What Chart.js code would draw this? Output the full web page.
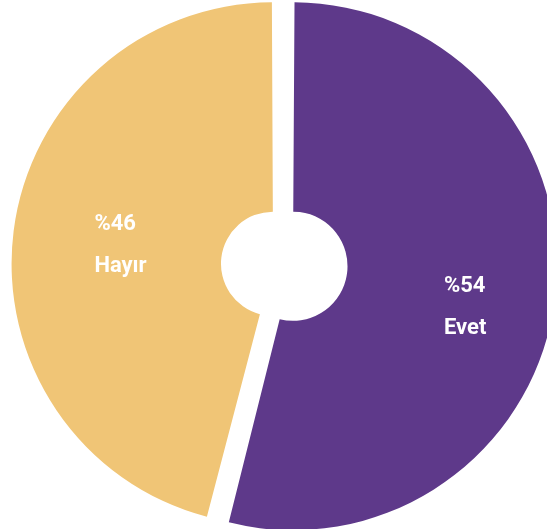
<!DOCTYPE html>
<html>
<head>
<meta charset="utf-8">
<script src="https://cdn.jsdelivr.net/npm/chart.js@4"></script>
<style>
  html, body { margin: 0; padding: 0; background: #fff; overflow: hidden; }
  #pieChart { position: absolute; left: 0; top: 0; }
</style>
</head>
<body>
<canvas id="pieChart" width="566" height="530"></canvas>
<script>
const labels = ['Evet', 'Hayır'];
const percents = [54, 46];
const sliceColors = ['#5E398A', '#F0C576'];

// where the two-line label sits inside each slice (angle shift in degrees, radius as share of outer radius)
const labelAngleShift = [5.5, 0.2];
const labelRadius = [0.735, 0.645];

const sliceLabels = {
  id: 'sliceLabels',
  afterDatasetsDraw(chart) {
    const ctx = chart.ctx;
    const arcs = chart.getDatasetMeta(0).data;
    ctx.save();
    ctx.fillStyle = '#fff';
    ctx.font = 'bold 22px Roboto';
    ctx.textAlign = 'left';
    ctx.textBaseline = 'alphabetic';
    arcs.forEach((arc, i) => {
      const mid = (arc.startAngle + arc.endAngle) / 2 + labelAngleShift[i] * Math.PI / 180;
      const r = arc.outerRadius * labelRadius[i];
      const cx = arc.x + Math.cos(mid) * r;
      const cy = arc.y + Math.sin(mid) * r;
      const top = '%' + percents[i];
      const w = Math.max(ctx.measureText(top).width, ctx.measureText(labels[i]).width);
      const left = cx - w / 2;
      ctx.fillText(top, left, cy - 14);
      ctx.fillText(labels[i], left, cy + 28);
    });
    ctx.restore();
  }
};

new Chart('pieChart', {
  type: 'doughnut',
  data: {
    labels: labels,
    datasets: [{
      data: percents,
      backgroundColor: sliceColors,
      borderWidth: 0,
      offset: 40,
      hoverOffset: 40
    }]
  },
  options: {
    responsive: false,
    animation: false,
    radius: 254,
    cutout: 43,
    layout: { padding: 0 },
    events: [],
    plugins: {
      legend: { display: false },
      tooltip: { enabled: false }
    }
  },
  plugins: [sliceLabels]
});
</script>
</body>
</html>
